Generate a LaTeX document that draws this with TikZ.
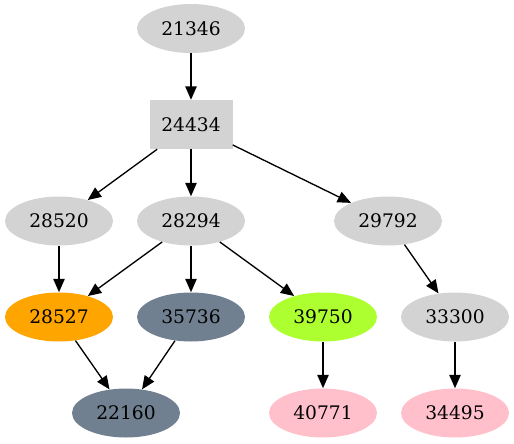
\documentclass[tikz,border=0pt]{standalone}
\usepackage{fontspec}
\setmainfont{DejaVu Serif}
\usetikzlibrary{shapes.geometric,arrows.meta}
\definecolor{lgrey}{HTML}{D3D3D3}
\definecolor{gvorange}{HTML}{FFA500}
\definecolor{slate}{HTML}{708090}
\definecolor{gyellow}{HTML}{ADFF2F}
\definecolor{gvpink}{HTML}{FFC0CB}
\tikzset{
  gnode/.style={ellipse, draw=none, fill=lgrey, minimum width=81pt, minimum height=36.75pt, inner sep=0pt, font=\fontsize{14pt}{16pt}\selectfont},
  gbox/.style={rectangle, draw=none, fill=lgrey, minimum width=62.25pt, minimum height=36.75pt, inner sep=0pt, font=\fontsize{14pt}{16pt}\selectfont},
  edge/.style={line width=1pt, -{Triangle[length=10pt,width=8.5pt]}}
}
\begin{document}
\begin{tikzpicture}[x=0.75pt,y=-0.75pt]
\useasboundingbox (0,0) rectangle (514,443);
\node[gnode] (n21346) at (191,28.5) {21346};
\node[gbox] (n24434) at (191,124.5) {24434};
\node[gnode] (n28520) at (59,221) {28520};
\node[gnode] (n28294) at (191,221) {28294};
\node[gnode] (n29792) at (388,221) {29792};
\node[gnode, fill=gvorange] (n28527) at (59,317) {28527};
\node[gnode, fill=slate] (n35736) at (191,317) {35736};
\node[gnode, fill=gyellow] (n39750) at (323,317) {39750};
\node[gnode] (n33300) at (455,317) {33300};
\node[gnode, fill=slate] (n22160) at (126,413) {22160};
\node[gnode, fill=gvpink] (n40771) at (323,413) {40771};
\node[gnode, fill=gvpink] (n34495) at (455,413) {34495};
\draw[edge] (n21346) -- (n24434);
\draw[edge] (n24434) -- (n28520);
\draw[edge] (n24434) -- (n28294);
\draw[edge] (n24434) -- (n29792);
\draw[edge] (n28520) -- (n28527);
\draw[edge] (n28294) -- (n28527);
\draw[edge] (n28294) -- (n35736);
\draw[edge] (n28294) -- (n39750);
\draw[edge] (n29792) -- (n33300);
\draw[edge] (n28527) -- (n22160);
\draw[edge] (n35736) -- (n22160);
\draw[edge] (n39750) -- (n40771);
\draw[edge] (n33300) -- (n34495);
\end{tikzpicture}
\end{document}
